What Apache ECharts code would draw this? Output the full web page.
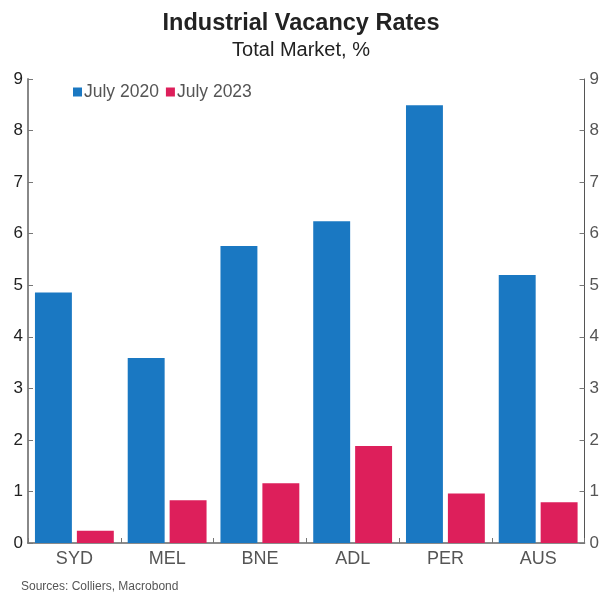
<!DOCTYPE html>
<html>
<head>
<meta charset="utf-8">
<script src="https://cdn.jsdelivr.net/npm/echarts@6/dist/echarts.min.js"></script>
<style>
    body{margin:0;background:#fff;}
    #chart{width:602px;height:592px;}
</style>
</head>
<body>
<div id="chart"></div>
<script>
    // 数据
    var cities = ['SYD', 'MEL', 'BNE', 'ADL', 'PER', 'AUS'];
    var july2020 = [4.86, 3.59, 5.76, 6.24, 8.49, 5.2];
    var july2023 = [0.24, 0.83, 1.16, 1.88, 0.96, 0.79];
    var yTicks = [0, 1, 2, 3, 4, 5, 6, 7, 8, 9];

    var font = 'Liberation Sans, Arial, sans-serif';
    var myChart = echarts.init(document.getElementById('chart'));

    // 两侧数值轴
    function valueAxis(pos, lineColor, lineWidth){
        return {
            type: 'value',
            position: pos,
            min: yTicks[0],
            max: yTicks[yTicks.length - 1],
            interval: 1,
            splitLine: {show: false},
            axisLine: {show: true, lineStyle: {color: lineColor, width: lineWidth}},
            axisTick: {show: true, inside: true, length: 5, lineStyle: {color: '#777'}},
            axisLabel: {color: pos == 'left' ? '#222' : '#555', fontSize: 17, fontFamily: font, margin: 5}
        };
    }

    myChart.setOption({
        animation: false,
        title: [{
            text: 'Industrial Vacancy Rates',
            left: 'center',
            top: 7,
            textStyle: {fontSize: 23.5, fontWeight: 'bold', color: '#222', fontFamily: font}
        }, {
            text: 'Total Market, %',
            left: 'center',
            top: 35,
            textStyle: {fontSize: 20, fontWeight: 'normal', color: '#222', fontFamily: font}
        }, {
            text: 'Sources: Colliers, Macrobond',
            left: 16,
            top: 576,
            textStyle: {fontSize: 12, fontWeight: 'normal', color: '#555', fontFamily: font}
        }],
        legend: {
            left: 68,
            top: 78,
            itemWidth: 9,
            itemHeight: 9,
            itemGap: 7,
            icon: 'rect',
            textStyle: {fontSize: 17.5, color: '#555', fontFamily: font, padding: [0, 0, 0, -3]},
            data: ['July 2020', 'July 2023']
        },
        grid: {left: 28, right: 17, top: 79, bottom: 49, containLabel: false},
        xAxis: {
            type: 'category',
            data: cities,
            axisLine: {lineStyle: {color: '#666', width: 1.5}},
            axisTick: {show: true, inside: true, length: 5, lineStyle: {color: '#777'}},
            axisLabel: {color: '#555', fontSize: 18, fontFamily: font, margin: 7}
        },
        yAxis: [valueAxis('left', '#888', 2), valueAxis('right', '#555', 1)],
        series: [{
            name: 'July 2020',
            type: 'bar',
            data: july2020,
            itemStyle: {color: '#1a78c2'},
            barGap: '13.5%',
            barCategoryGap: '15%'
        }, {
            name: 'July 2023',
            type: 'bar',
            data: july2023,
            itemStyle: {color: '#dd1f5b'}
        }]
    });
</script>
</body>
</html>
